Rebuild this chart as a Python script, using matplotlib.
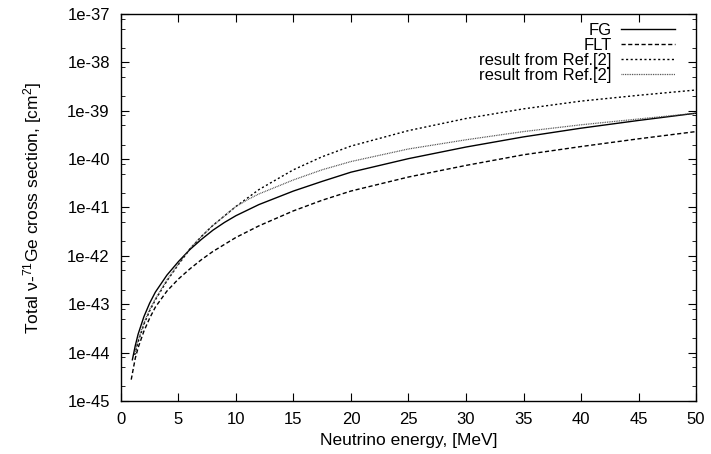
import numpy as np
import matplotlib
matplotlib.use("Agg")
import matplotlib.pyplot as plt
from matplotlib.ticker import LogLocator, FixedLocator, NullFormatter

plt.rcParams['font.family'] = ['Liberation Sans', 'DejaVu Sans']
plt.rcParams['mathtext.fontset'] = 'custom'
plt.rcParams['mathtext.rm'] = 'Liberation Sans'
plt.rcParams['mathtext.it'] = 'Liberation Sans:italic'

# energies [MeV] and log10 of cross sections [cm^2]
x_fg = [1.0, 1.25, 1.5, 2, 2.5, 3, 4, 5, 6, 7, 8, 9, 10, 12, 15, 17.5, 20, 25, 30, 35, 40, 45, 50]
lg_fg = [-44.15, -43.86, -43.62, -43.26, -42.98, -42.75, -42.40, -42.12, -41.87, -41.66, -41.47,
         -41.31, -41.17, -40.94, -40.66, -40.46, -40.27, -39.99, -39.75, -39.54, -39.36, -39.20, -39.05]

x_flt = [0.9, 1.25, 1.5, 2, 2.5, 3, 4, 5, 6, 7, 8, 10, 12, 15, 17.5, 20, 25, 30, 35, 40, 45, 50]
lg_flt = [-44.56, -44.12, -43.90, -43.56, -43.29, -43.06, -42.73, -42.48, -42.27, -42.08, -41.91,
          -41.62, -41.38, -41.07, -40.85, -40.66, -40.37, -40.13, -39.91, -39.74, -39.58, -39.43]

x_ref2a = [1.2, 1.5, 2, 2.5, 3, 4, 5, 6, 7, 8, 10, 12, 15, 17.5, 20, 25, 30, 35, 40, 45, 50]
lg_ref2a = [-44.05, -43.78, -43.42, -43.14, -42.91, -42.52, -42.18, -41.86, -41.60, -41.37, -40.98,
            -40.63, -40.22, -39.95, -39.73, -39.41, -39.16, -38.96, -38.80, -38.68, -38.57]

x_ref2b = [1.2, 1.5, 2, 2.5, 3, 4, 5, 6, 7, 8, 10, 11, 12, 15, 17.5, 20, 25, 30, 35, 40, 45, 50]
lg_ref2b = [-44.02, -43.75, -43.39, -43.11, -42.89, -42.50, -42.17, -41.85, -41.60, -41.37, -40.98,
            -40.84, -40.72, -40.43, -40.22, -40.05, -39.79, -39.60, -39.43, -39.29, -39.17, -39.05]

y_ticks = [1e-45, 1e-44, 1e-43, 1e-42, 1e-41, 1e-40, 1e-39, 1e-38, 1e-37]
y_ticklabels = ['1e-45', '1e-44', '1e-43', '1e-42', '1e-41', '1e-40', '1e-39', '1e-38', '1e-37']
x_ticks = [0, 5, 10, 15, 20, 25, 30, 35, 40, 45, 50]

fig = plt.figure(figsize=(7.11, 4.54), dpi=100)
ax = fig.add_axes([0.170, 0.117, 0.809, 0.852])

ax.plot(x_fg, 10 ** np.array(lg_fg), color='black', lw=1.0, label='FG')
ax.plot(x_flt, 10 ** np.array(lg_flt), color='black', lw=1.0, dashes=(3.0, 1.8), label='FLT')
ax.plot(x_ref2a, 10 ** np.array(lg_ref2a), color='black', lw=1.0, dashes=(1.5, 1.8),
        label='result from Ref.[2]')
ax.plot(x_ref2b, 10 ** np.array(lg_ref2b), color='#444444', lw=0.9, dashes=(0.7, 0.7),
        label='result from Ref.[2]')

ax.set_yscale('log')
ax.set_xlim(0, 50)
ax.set_ylim(1e-45, 1e-37)
ax.yaxis.set_major_locator(FixedLocator(y_ticks))
ax.set_yticklabels(y_ticklabels)
ax.yaxis.set_minor_locator(LogLocator(base=10, subs=[2, 5, 8], numticks=20))
ax.yaxis.set_minor_formatter(NullFormatter())
ax.set_xticks(x_ticks)
ax.tick_params(which='major', direction='in', length=6, width=0.8, top=True, right=True,
               labelsize=12, pad=8)
ax.tick_params(which='minor', direction='in', length=3, width=0.6, top=False, right=True)
for s in ax.spines.values():
    s.set_linewidth(1.0)

ax.set_xlabel('Neutrino energy, [MeV]', fontsize=12.5, labelpad=4)
ax.set_ylabel('Total ν-$^{71}$Ge cross section, [cm$^{2}$]', fontsize=12.5, labelpad=17)

ax.legend(loc='upper right', bbox_to_anchor=(0.963, 0.977), frameon=False, markerfirst=False,
          alignment='right', fontsize=12, handlelength=3.2, labelspacing=0.0,
          handletextpad=0.6, borderaxespad=0.0, borderpad=0.0)

fig.savefig('out.png', dpi=100)
